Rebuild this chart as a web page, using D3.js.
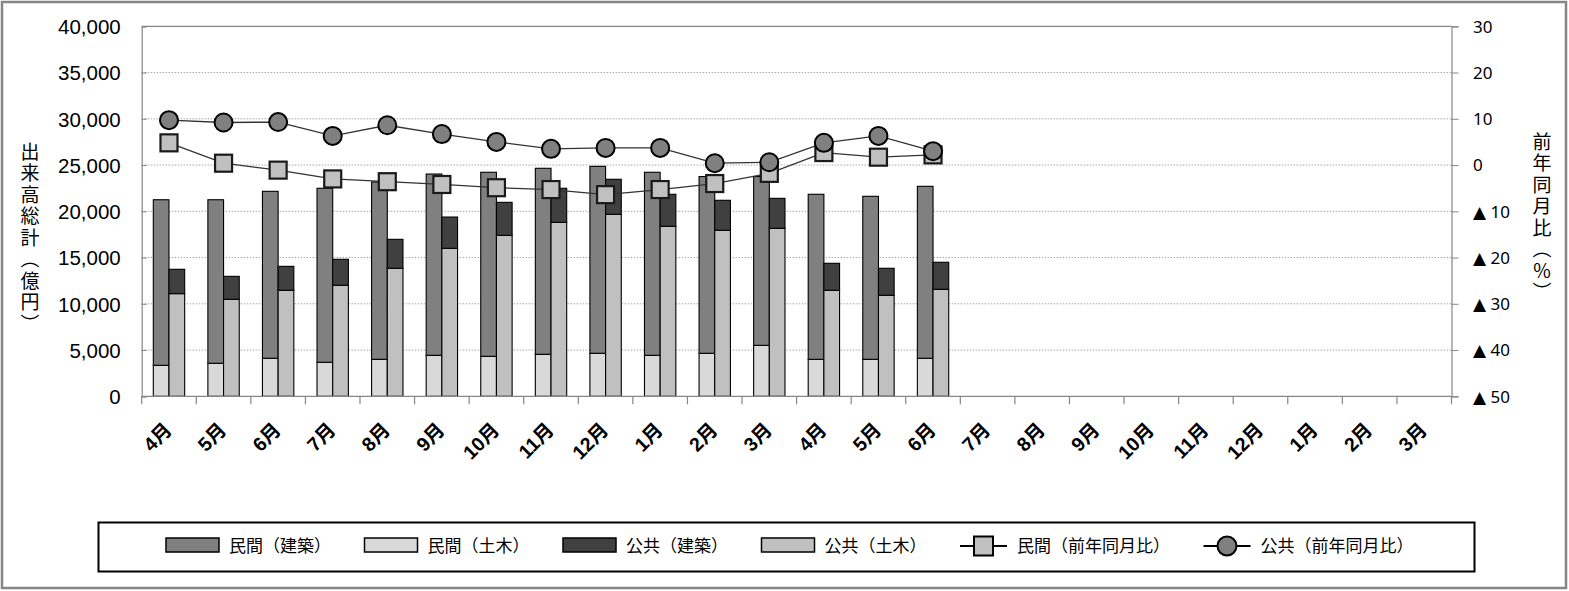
<!DOCTYPE html>
<html>
<head>
<meta charset="utf-8">
<script src="https://cdn.jsdelivr.net/npm/d3@7"></script>
<style>
  html, body { margin: 0; padding: 0; background: #fff; }
  svg { display: block; }
</style>
</head>
<body>
<svg id="chart" width="1569" height="591"></svg>
<script>
// ---- data ----
const categories = ["4月","5月","6月","7月","8月","9月","10月","11月","12月","1月","2月","3月",
                    "4月","5月","6月","7月","8月","9月","10月","11月","12月","1月","2月","3月"];
// 億円
const privateBuilding = [17900, 17680, 18050, 18810, 19170, 19600, 19900, 20110, 20210, 19790, 19110, 18250, 17840, 17620, 18590];
const privateCivil    = [3350, 3570, 4110, 3680, 4000, 4430, 4320, 4540, 4650, 4430, 4650, 5510, 4000, 4000, 4110];
const publicBuilding  = [2630, 2480, 2590, 2810, 3130, 3380, 3570, 3680, 3780, 3460, 3240, 3240, 2920, 2920, 2920];
const publicCivil     = [11100, 10490, 11460, 12000, 13840, 16000, 17400, 18810, 19680, 18380, 17950, 18160, 11460, 10920, 11570];
// 前年同月比 (%)
const privateYoY = [4.8, 0.4, -1.1, -3.0, -3.6, -4.2, -4.9, -5.3, -6.4, -5.3, -4.0, -1.8, 2.7, 1.7, 2.2];
const publicYoY  = [9.7, 9.2, 9.3, 6.3, 8.6, 6.7, 5.0, 3.5, 3.7, 3.7, 0.4, 0.6, 4.8, 6.3, 3.0];
const leftTicks  = [0, 5000, 10000, 15000, 20000, 25000, 30000, 35000, 40000];
const rightTicks = [-50, -40, -30, -20, -10, 0, 10, 20, 30];
const leftTitle  = "出来高総計（億円）";
const rightTitle = "前年同月比（％）";
const seriesNames = ["民間（建築）", "民間（土木）", "公共（建築）", "公共（土木）", "民間（前年同月比）", "公共（前年同月比）"];

// ---- style ----
const colors = {
  privateBuilding: "#808080",
  privateCivil: "#d9d9d9",
  publicBuilding: "#404040",
  publicCivil: "#c0c0c0",
  square: "#c0c0c0",
  circle: "#808080"
};
const plot = { left: 141.7, right: 1451.5, top: 26.3, bottom: 396.3 };
const jpFont = "'Noto Sans CJK JP', 'Noto Sans CJK SC', sans-serif";

const svg = d3.select("#chart");

// outer frame
svg.append("rect").attr("x", 2).attr("y", 2).attr("width", 1564).attr("height", 586)
  .attr("fill", "#fff").attr("stroke", "#868686").attr("stroke-width", 2.5);

// scales
const x = d3.scaleBand().domain(d3.range(categories.length)).range([plot.left, plot.right]).padding(0);
const inner = d3.scaleBand().domain(["private", "public"]).range([0, x.bandwidth()]).paddingInner(0).paddingOuter(0.74);
const yL = d3.scaleLinear().domain([0, 40000]).range([plot.bottom, plot.top]);
const yR = d3.scaleLinear().domain([-50, 30]).range([plot.bottom, plot.top]);

// gridlines
svg.append("g").selectAll("line").data(leftTicks.filter(d => d > 0 && d < 40000)).join("line")
  .attr("x1", plot.left).attr("x2", plot.right)
  .attr("y1", d => yL(d)).attr("y2", d => yL(d))
  .attr("stroke", "#7f7f7f").attr("stroke-width", 1).attr("stroke-dasharray", "1,2");

// plot border (top line)
svg.append("line").attr("x1", plot.left).attr("x2", plot.right).attr("y1", yL(40000)).attr("y2", yL(40000))
  .attr("stroke", "#868686").attr("stroke-width", 1.2);

// stacked bars
const n = privateCivil.length;
const rows = d3.range(n).map(i => ({
  i,
  privateCivil: privateCivil[i], privateBuilding: privateBuilding[i],
  publicCivil: publicCivil[i], publicBuilding: publicBuilding[i]
}));
const privStack = d3.stack().keys(["privateCivil", "privateBuilding"])(rows);
const pubStack = d3.stack().keys(["publicCivil", "publicBuilding"])(rows);

function drawStack(stack, group) {
  svg.append("g").selectAll("g").data(stack).join("g")
    .attr("fill", s => colors[s.key])
    .selectAll("rect").data(s => s).join("rect")
      .attr("x", d => x(d.data.i) + inner(group))
      .attr("width", inner.bandwidth())
      .attr("y", d => yL(d[1]))
      .attr("height", d => yL(d[0]) - yL(d[1]))
      .attr("stroke", "#000").attr("stroke-width", 1.1);
}
drawStack(privStack, "private");
drawStack(pubStack, "public");

// left axis
const axL = svg.append("g").attr("transform", `translate(${plot.left},0)`)
  .call(d3.axisLeft(yL).tickValues(leftTicks).tickSize(-5).tickPadding(21).tickFormat(d3.format(",")));
axL.select(".domain").attr("stroke", "#868686").attr("stroke-width", 1.2);
axL.selectAll(".tick line").attr("stroke", "#868686");
axL.selectAll("text").attr("font-family", "'Liberation Sans', Arial, sans-serif").attr("font-size", 20.5).attr("fill", "#000").attr("dy", "0.36em");

// right axis
const axR = svg.append("g").attr("transform", `translate(${plot.right},0)`)
  .call(d3.axisRight(yR).tickValues(rightTicks).tickSize(7).tickPadding(14.5)
    .tickFormat(d => d < 0 ? "▲ " + (-d) : String(d)));
axR.select(".domain").attr("stroke", "#868686").attr("stroke-width", 1.2);
axR.selectAll(".tick line").attr("stroke", "#868686");
axR.selectAll("text").attr("font-family", "'Noto Sans', 'DejaVu Sans', sans-serif").attr("font-size", 17).attr("fill", "#000").attr("dy", "0.34em");

// bottom axis
const axB = svg.append("g");
axB.append("line").attr("x1", plot.left).attr("x2", plot.right).attr("y1", plot.bottom).attr("y2", plot.bottom)
  .attr("stroke", "#868686").attr("stroke-width", 1.2);
axB.selectAll(".tk").data(d3.range(categories.length + 1)).join("line").attr("class", "tk")
  .attr("x1", i => plot.left + i * x.step()).attr("x2", i => plot.left + i * x.step())
  .attr("y1", plot.bottom).attr("y2", plot.bottom + 8)
  .attr("stroke", "#868686").attr("stroke-width", 1.2);
axB.selectAll("text").data(d3.range(categories.length)).join("text")
  .attr("transform", i => `translate(${x(i) + x.bandwidth() / 2 + 4},${plot.bottom + 35}) rotate(-45)`)
  .attr("text-anchor", "end")
  .attr("font-family", "'Liberation Sans', Arial, 'Noto Sans CJK JP', sans-serif")
  .attr("font-weight", "bold").attr("font-size", 19.5).attr("fill", "#000")
  .text(i => categories[i]);

// lines
const cx = i => x(i) + x.bandwidth() / 2;
const line = d3.line().x((d, i) => cx(i)).y(d => yR(d));
svg.append("path").datum(privateYoY).attr("d", line).attr("fill", "none").attr("stroke", "#333").attr("stroke-width", 1.3);
svg.append("g").selectAll("rect").data(privateYoY).join("rect")
  .attr("x", (d, i) => cx(i) - 8.5).attr("y", d => yR(d) - 8.5)
  .attr("width", 17).attr("height", 17)
  .attr("fill", colors.square).attr("stroke", "#1a1a1a").attr("stroke-width", 2.2);
svg.append("path").datum(publicYoY).attr("d", line).attr("fill", "none").attr("stroke", "#333").attr("stroke-width", 1.3);
svg.append("g").selectAll("circle").data(publicYoY).join("circle")
  .attr("cx", (d, i) => cx(i)).attr("cy", d => yR(d)).attr("r", 9)
  .attr("fill", colors.circle).attr("stroke", "#000").attr("stroke-width", 2);

// axis titles (vertical)
svg.append("text").attr("x", 30).attr("y", 142)
  .style("writing-mode", "vertical-rl").attr("font-family", jpFont).attr("font-size", 19)
  .attr("letter-spacing", 2.5).attr("fill", "#000").text(leftTitle);
svg.append("text").attr("x", 1542).attr("y", 132)
  .style("writing-mode", "vertical-rl").attr("font-family", jpFont).attr("font-size", 19)
  .attr("letter-spacing", 2.5).attr("fill", "#000").text(rightTitle);

// legend
const leg = svg.append("g");
leg.append("rect").attr("x", 98.5).attr("y", 522.5).attr("width", 1376).attr("height", 49)
  .attr("fill", "#fff").attr("stroke", "#000").attr("stroke-width", 2);
const legItems = [
  { name: seriesNames[0], type: "bar", fill: colors.privateBuilding },
  { name: seriesNames[1], type: "bar", fill: colors.privateCivil },
  { name: seriesNames[2], type: "bar", fill: colors.publicBuilding },
  { name: seriesNames[3], type: "bar", fill: colors.publicCivil },
  { name: seriesNames[4], type: "square", fill: colors.square },
  { name: seriesNames[5], type: "circle", fill: colors.circle }
];
let lx = 166;
const ly = 545;
legItems.forEach(it => {
  const g = leg.append("g");
  if (it.type === "bar") {
    g.append("rect").attr("x", lx).attr("y", ly - 7).attr("width", 53).attr("height", 14)
      .attr("fill", it.fill).attr("stroke", "#000").attr("stroke-width", 1.5);
  } else {
    g.append("line").attr("x1", lx).attr("x2", lx + 47).attr("y1", ly + 1).attr("y2", ly + 1)
      .attr("stroke", "#000").attr("stroke-width", 2);
    if (it.type === "square") {
      g.append("rect").attr("x", lx + 14).attr("y", ly - 8.5).attr("width", 19).attr("height", 19)
        .attr("fill", it.fill).attr("stroke", "#000").attr("stroke-width", 2);
    } else {
      g.append("circle").attr("cx", lx + 23.5).attr("cy", ly + 1).attr("r", 9.5)
        .attr("fill", it.fill).attr("stroke", "#000").attr("stroke-width", 2);
    }
  }
  const symW = it.type === "bar" ? 53 : 47;
  const t = g.append("text").attr("x", lx + symW + 10).attr("y", ly + 1).attr("dy", "0.36em")
    .attr("font-family", jpFont).attr("font-size", 17).attr("fill", "#000").text(it.name);
  lx = lx + symW + 10 + t.node().getComputedTextLength() + 33.5;
});
</script>
</body>
</html>
